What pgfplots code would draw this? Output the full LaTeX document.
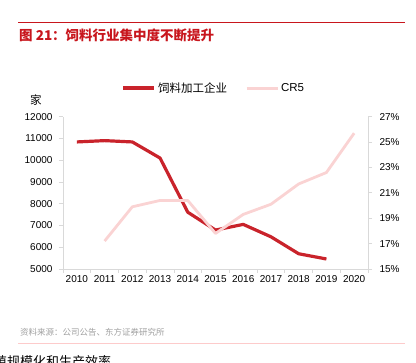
\documentclass[border=0pt]{standalone}
\usepackage{pgfplots}
\pgfplotsset{compat=1.18}
\usepackage{fontspec}
\setmainfont{Liberation Sans}
\newfontfamily\cjk{Noto Sans CJK SC}
\definecolor{redl}{HTML}{C9232B}
\definecolor{pinkl}{HTML}{FAD3D3}
\definecolor{titlered}{HTML}{C8161D}
\definecolor{axgray}{HTML}{D9D9D9}
\definecolor{srcgray}{HTML}{A0A0A0}
\begin{document}
\begin{tikzpicture}[x=1pt,y=1pt]
\path[use as bounding box] (0,0) rectangle (416,363);
\draw[titlered,line width=0.8pt] (18,341) -- (405,341);
\node[anchor=west,inner sep=0,text=titlered,font=\cjk\bfseries\fontsize{13.5}{15}\selectfont] at (19,328) {图 21：饲料行业集中度不断提升};
\node[anchor=center,inner sep=0,font=\cjk\fontsize{11.5}{13}\selectfont] at (36,263) {家};
\node[anchor=west,inner sep=0,text=srcgray,font=\cjk\fontsize{8.5}{10}\selectfont] at (20,31) {资料来源：公司公告、东方证券研究所};
\draw[pinkl!80!red!60,line width=0.8pt] (18,20) -- (405,20);
\node[anchor=west,inner sep=0,font=\cjk\fontsize{13}{15}\selectfont] at (-6,1) {殖规模化和生产效率};
\begin{axis}[
  at={(63pt,94pt)}, anchor=south west,
  scale only axis, width=305pt, height=152.3pt,
  xmin=-0.5, xmax=10.5, ymin=5000, ymax=12000,
  axis y line*=left, axis x line*=bottom,
  axis line style={axgray,line width=0.8pt},
  every tick/.style={axgray,line width=0.8pt},
  tick align=outside, major tick length=4pt,
  xtick={-0.5,0.5,...,10.5}, xticklabels={},
  extra x ticks={0,1,...,10},
  extra x tick labels={2010,2011,2012,2013,2014,2015,2016,2017,2018,2019,2020},
  extra x tick style={major tick length=0pt},
  ytick={5000,6000,...,12000},
  scaled y ticks=false,
  /pgf/number format/assume math mode=true,
  /pgf/number format/1000 sep={},
  tick label style={font=\fontsize{10}{12}\selectfont},
  xticklabel style={yshift=-3pt},
  yticklabel style={xshift=-3pt},
  legend style={at={(0.495,1.188)},anchor=center,draw=none,fill=none,
    legend columns=2, font=\cjk\fontsize{11.5}{13}\selectfont,
    /tikz/every even column/.append style={column sep=16pt}},
  legend image code/.code={\draw[#1] (0pt,0pt) -- (31pt,0pt);},
  clip=false,
]
\addplot[redl,line width=3.2pt,line join=round] coordinates {
(0,10840) (1,10900) (2,10840) (3,10100) (4,7610) (5,6790) (6,7050) (7,6480) (8,5700) (9,5460)};
\addlegendentry{饲料加工企业}
\addlegendimage{pinkl,line width=3pt}
\addlegendentry{\fontspec{Liberation Sans}CR5}
\end{axis}
\begin{axis}[
  at={(63pt,94pt)}, anchor=south west,
  scale only axis, width=305pt, height=152.3pt,
  xmin=-0.5, xmax=10.5, ymin=15, ymax=27,
  axis y line*=right, axis x line=none,
  axis line style={axgray,line width=0.8pt},
  every tick/.style={axgray,line width=0.8pt},
  tick align=outside, major tick length=4pt,
  ytick={15,17,...,27},
  yticklabel={\pgfmathprintnumber{\tick}\%},
  /pgf/number format/assume math mode=true,
  tick label style={font=\fontsize{10}{12}\selectfont},
  yticklabel style={xshift=4pt},
  clip=false,
]
\addplot[pinkl,line width=2.8pt,line join=round] coordinates {
(1,17.2) (2,19.9) (3,20.4) (4,20.4) (5,17.8) (6,19.3) (7,20.1) (8,21.7) (9,22.6) (10,25.7)};
\end{axis}
\end{tikzpicture}
\end{document}
